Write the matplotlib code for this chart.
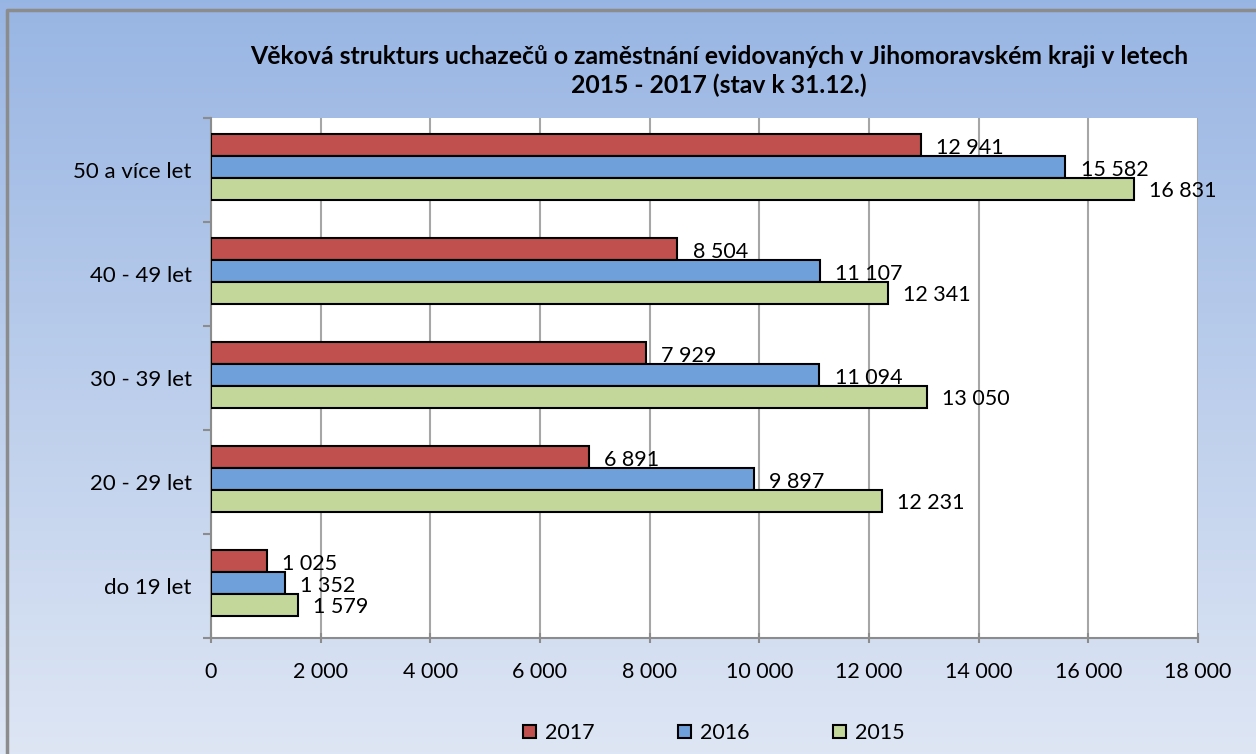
import numpy as np
import matplotlib.pyplot as plt
from matplotlib.patches import Patch

categories = ["do 19 let", "20 - 29 let", "30 - 39 let", "40 - 49 let", "50 a více let"]
years = ["2017", "2016", "2015"]
v2017 = [1025, 6891, 7929, 8504, 12941]
v2016 = [1352, 9897, 11094, 11107, 15582]
v2015 = [1579, 12231, 13050, 12341, 16831]
x_ticks = [0, 2000, 4000, 6000, 8000, 10000, 12000, 14000, 16000, 18000]

colors = ["#C0504D", "#70A0DA", "#C4D79B"]
title = ("Věková strukturs uchazečů o zaměstnání evidovaných v Jihomoravském kraji v letech\n"
         "2015 - 2017 (stav k 31.12.)")

plt.rcParams['font.family'] = ['Lato', 'DejaVu Sans']
FS = 15.5


def fmt(v):
    return f"{v:,}".replace(",", " ")


fig = plt.figure(figsize=(12.56, 7.54), dpi=100)

# gradient background
bg = fig.add_axes([0, 0, 1, 1], zorder=0)
grad = np.linspace(0, 1, 256).reshape(-1, 1)
top = np.array([0.596, 0.710, 0.890])
bot = np.array([0.870, 0.902, 0.957])
img = top + (bot - top) * grad[:, :, None]
bg.imshow(img, aspect='auto', extent=[0, 1, 0, 1])
bg.set_xlim(0, 1)
bg.set_ylim(0, 1)
bg.plot([7 / 1256, 7 / 1256, 1.0], [0, 1 - 10 / 754, 1 - 10 / 754], color="#8C8C8C", lw=2.5)
bg.axis('off')

ax = fig.add_axes([211 / 1256, 1 - 638 / 754, (1198 - 211) / 1256, (638 - 118) / 754], zorder=1)
ax.set_facecolor("white")

y = np.arange(len(categories))
h = 0.21
shift = 0.03  # bar cluster sits a touch above the category centre
series = [v2017, v2016, v2015]
offsets = [h + shift, shift, -h + shift]
for vals, off, c in zip(series, offsets, colors):
    ax.barh(y + off, vals, height=h, color=c, edgecolor="black", linewidth=1.5, zorder=3)
    for yi, v in zip(y, vals):
        ax.annotate(fmt(v), (v, yi + off), xytext=(11, -2), textcoords="offset points",
                    ha="left", va="center", fontsize=FS, zorder=4)

ax.set_xlim(0, 18000)
ax.set_ylim(-0.5, len(categories) - 0.5)
ax.set_xticks(x_ticks)
ax.set_xticklabels([fmt(t) for t in x_ticks], fontsize=FS)
ax.set_yticks(y)
ax.set_yticklabels(categories, fontsize=16)
ax.set_yticks(np.arange(-0.5, len(categories), 1), minor=True)
ax.tick_params(axis='y', which='major', length=0, pad=14)
ax.tick_params(axis='y', which='minor', length=6, width=1.5, color="#8C8C8C", direction='out')
ax.tick_params(axis='x', which='major', length=7, width=1.5, color="#8C8C8C", direction='inout', pad=14)
ax.grid(axis='x', color="#A6A6A6", linewidth=1.5, zorder=0)
ax.set_axisbelow(True)
for s in ["top", "right"]:
    ax.spines[s].set_visible(False)
for s in ["left", "bottom"]:
    ax.spines[s].set_color("#8C8C8C")
    ax.spines[s].set_linewidth(1.5)

fig.text(719 / 1256, 1 - 71 / 754, title, ha="center", va="center", fontsize=17.8,
         fontweight="bold", linespacing=1.25)

handles = [Patch(facecolor=c, edgecolor="black", linewidth=1.5) for c in colors]
fig.legend(handles, years, loc="center", bbox_to_anchor=(714 / 1256, 1 - 733 / 754), ncol=3,
           frameon=False, fontsize=FS, handlelength=0.6, handleheight=0.6,
           handletextpad=0.4, columnspacing=3.9)

fig.savefig("out.png", dpi=100)
